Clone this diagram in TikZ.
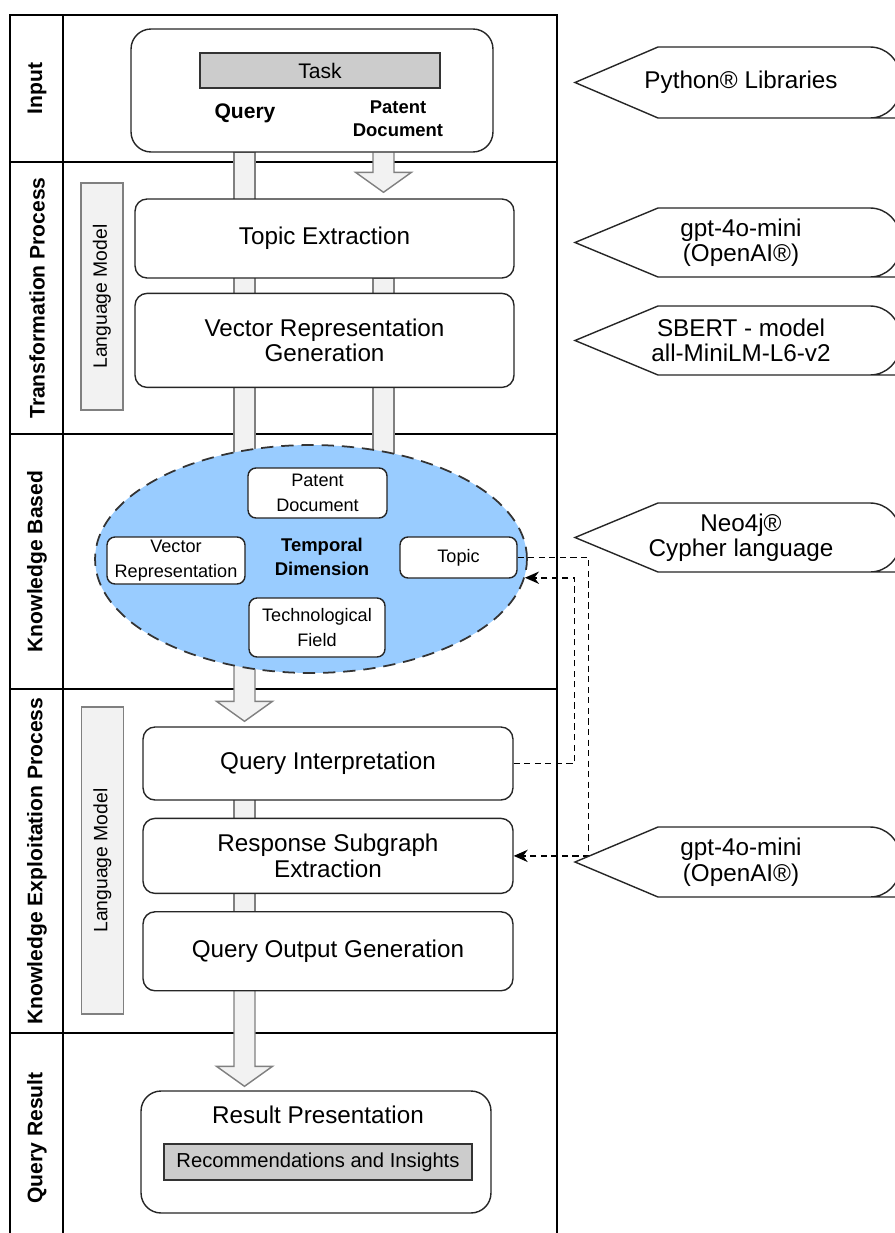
\documentclass[tikz,border=0pt]{standalone}
\usepackage{fontspec}
\setmainfont{Liberation Sans}
\usetikzlibrary{shapes.geometric,arrows.meta,positioning,calc}
\definecolor{lightblue}{RGB}{153,204,255}
\definecolor{shaftgray}{RGB}{242,242,242}
\definecolor{taskgray}{RGB}{204,204,204}
\definecolor{edgegray}{RGB}{128,128,128}
\pgfdeclarelayer{bg}
\pgfdeclarelayer{mid}
\pgfsetlayers{bg,mid,main}
% fat gray arrows: start, tip (same x)
\newcommand{\fatarrow}[2]{\draw[bigarrow] ($(#1)+(-10.5,0)$) -- ($(#2)+(-10.5,-20)$) -- ($(#2)+(-28,-20)$) -- (#2) -- ($(#2)+(28,-20)$) -- ($(#2)+(10.5,-20)$) -- ($(#1)+(10.5,0)$);}
\newcommand{\fatshaft}[2]{\draw[bigarrow] ($(#1)+(-10.5,0)$) rectangle ($(#2)+(10.5,0)$);}
% tool notes on the right: name, y, half height, text
\newcommand{\toolnote}[4]{%
  \draw[tool] (575,#2) -- (658,#2-#3) -- (868,#2-#3) [rounded corners=0.6cm] -- (900,#2-#3) -- (900,#2+#3) -- (868,#2+#3) [sharp corners] -- (658,#2+#3) -- cycle;
  \node[tooltext] (#1) at (741,#2) {#4};}

\begin{document}
\begin{tikzpicture}[
    x=0.02cm, y=-0.02cm,
    lane/.style={draw, line width=0.9pt},
    lanelabel/.style={rotate=90, font=\bfseries\fontsize{12}{14}\selectfont},
    box/.style={rectangle, draw=black!85, line width=0.8pt, rounded corners=0.24cm, fill=white, minimum width=7.58cm, align=center, font=\fontsize{13.8}{14.5}\selectfont},
    graybox/.style={rectangle, draw=black!80, line width=0.8pt, fill=taskgray},
    lmbar/.style={rectangle, draw=edgegray, line width=0.8pt, fill=shaftgray, rotate=90, minimum height=0.84cm, font=\fontsize{11}{13}\selectfont},
    kbbox/.style={rectangle, draw=black!85, line width=0.8pt, rounded corners=0.16cm, fill=white, align=center, inner sep=1pt, font=\fontsize{10.3}{14}\selectfont},
    bigarrow/.style={draw=edgegray, line width=0.8pt, fill=shaftgray},
    dasharrow/.style={line width=0.9pt, dash pattern=on 3.5pt off 2.5pt, -{Stealth[length=8pt,width=7pt]}},
    tool/.style={draw=black!85, line width=0.8pt, fill=white},
    tooltext/.style={align=center, font=\fontsize{13.8}{14.5}\selectfont}
]
    \useasboundingbox (0,0) rectangle (894,1233);

    % Lanes
    \begin{pgfonlayer}{bg}
        \draw[lane] (10,1250) -- (10,15) -- (557,15) -- (557,1250);
        \draw[lane] (63,15) -- (63,1250);
        \foreach \y in {162,434,689,1033}
            \draw[lane] (10,\y) -- (557,\y);
    \end{pgfonlayer}
    \node[lanelabel] (lin) at (37,88.5) {Input};
    \node[lanelabel] (ltr) at (37,298) {Transformation Process};
    \node[lanelabel] (lkb) at (37,561.5) {Knowledge Based};
    \node[lanelabel] (lke) at (37,861) {Knowledge Exploitation Process};
    \node[lanelabel] (lqr) at (37,1138) {Query Result};

    % Input
    \node[box, rounded corners=0.4cm, minimum width=7.24cm, minimum height=2.46cm] (inbox) at (312,90.5) {};
    \node[graybox, minimum width=4.8cm, minimum height=0.7cm, font=\fontsize{12}{14}\selectfont] (task) at (320,70.5) {Task};
    \node[font=\bfseries\fontsize{12}{14}\selectfont] (query) at (245,113) {Query};
    \node[align=center, font=\bfseries\fontsize{10.5}{13}\selectfont] (pdoc) at (398,119) {Patent\\Document};

    % Transformation
    \node[lmbar, minimum width=4.54cm] (lm1) at (102,296.5) {Language Model};
    \node[box, minimum height=1.58cm] (topicx) at (324.5,238.5) {Topic Extraction};
    \node[box, minimum height=1.88cm, below=0.28cm of topicx] (vecgen) {Vector Representation\\Generation};

    % Knowledge base
    \node[ellipse, draw=black!80, line width=1pt, dash pattern=on 7pt off 4.5pt, fill=lightblue, minimum width=8.64cm, minimum height=4.56cm, inner sep=0pt] (kb) at (311,559) {};
    \node[kbbox, minimum width=2.78cm, minimum height=1cm] (kbpat) at (317.5,493) {Patent\\Document};
    \node[kbbox, minimum width=2.76cm, minimum height=0.94cm] (kbvec) at (176,560.5) {Vector\\Representation};
    \node[align=center, font=\bfseries\fontsize{10.5}{14}\selectfont] (kbtemp) at (322,557) {Temporal\\Dimension};
    \node[kbbox, minimum width=2.34cm, minimum height=0.82cm] (kbtopic) at (458.5,557.5) {Topic};
    \node[kbbox, minimum width=2.72cm, minimum height=1.18cm] (kbtech) at (317,627.5) {Technological\\Field};

    % Exploitation
    \node[lmbar, minimum width=6.14cm] (lm2) at (102.5,860.5) {Language Model};
    \node[box, minimum width=7.4cm, minimum height=1.46cm] (qint) at (328,763.5) {Query Interpretation};
    \node[box, minimum width=7.4cm, minimum height=1.5cm, below=0.34cm of qint] (rsub) {Response Subgraph\\Extraction};
    \node[box, minimum width=7.4cm, minimum height=1.58cm, below=0.34cm of rsub] (qout) {Query Output Generation};

    % Result
    \node[box, rounded corners=0.4cm, minimum width=7cm, minimum height=2.44cm] (res) at (316,1152) {};
    \node[font=\fontsize{13.8}{14.5}\selectfont] (restitle) at (318,1115) {Result Presentation};
    \node[graybox, minimum width=6.16cm, minimum height=0.72cm, font=\fontsize{11.5}{13}\selectfont] (rec) at (318,1162) {Recommendations and Insights};

    % Big arrows
    \coordinate (lsh) at (244.5,0);
    \coordinate (rsh) at (383.5,0);
    \coordinate (tip1) at ($(topicx.north -| rsh)+(0,-6)$);
    \coordinate (tip2) at ($(qint.north -| lsh)+(0,-5)$);
    \coordinate (tip3) at ($(res.north -| lsh)+(0,-4)$);
    \begin{pgfonlayer}{mid}
        \fatshaft{inbox.south -| lsh}{kb.center -| lsh}
        \fatarrow{inbox.south -| rsh}{tip1}
        \fatshaft{topicx.south -| rsh}{kb.center -| rsh}
        \fatarrow{kb.center -| lsh}{tip2}
        \fatshaft{qint.center -| lsh}{qout.center -| lsh}
        \fatarrow{qout.center -| lsh}{tip3}
    \end{pgfonlayer}

    % Graph queries
    \draw[dasharrow] (kbtopic.east) -- ++(71,0) |- (rsub.east);
    \draw[dasharrow] (qint.east) -- ++(61,0) |- (kb.-5.4);

    % Tools
    \toolnote{tpy}{82.5}{35.5}{Python® Libraries}
    \toolnote{tgpt}{242.5}{34.5}{gpt-4o-mini\\(OpenAI®)}
    \toolnote{tsbert}{340.5}{34.5}{SBERT - model\\all-MiniLM-L6-v2}
    \toolnote{tneo}{537.5}{34.5}{Neo4j®\\Cypher language}
    \toolnote{tgpt2}{862}{35}{gpt-4o-mini\\(OpenAI®)}
\end{tikzpicture}
\end{document}
